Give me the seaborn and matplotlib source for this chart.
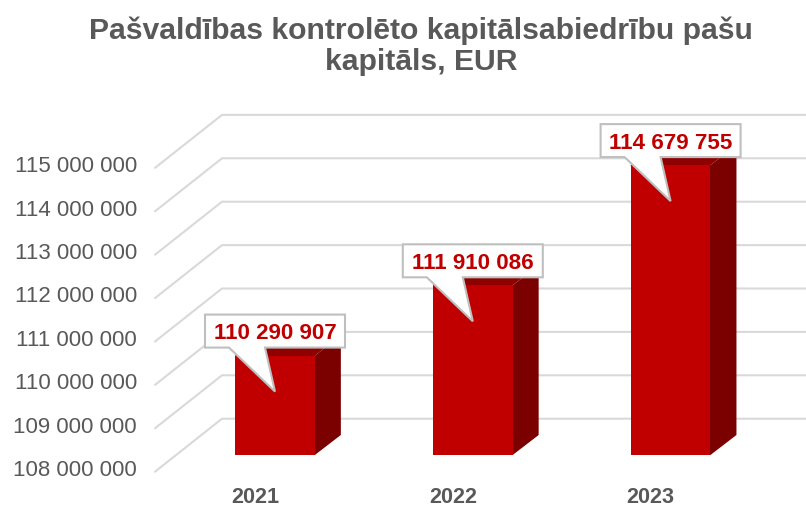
import matplotlib
matplotlib.use('Agg')
import matplotlib.pyplot as plt
import seaborn as sns
from matplotlib.patches import Polygon
from matplotlib.transforms import ScaledTranslation

years = ['2021', '2022', '2023']
values = [110290907, 111910086, 114679755]
tick_values = [108000000, 109000000, 110000000, 111000000, 112000000, 113000000, 114000000, 115000000]
title = 'Pašvaldības kontrolēto kapitālsabiedrību pašu\nkapitāls, EUR'

W, H = 806, 505
px_x = 197.8   # pixels per category
px_y = 43.4    # pixels per million
bottom_px = 455
top_px = 90
x0_px = 275.0  # centre of first bar

red = '#c00000'
side = '#7b0000'
top = '#8f0000'
grid = '#d9d9d9'
grey = '#595959'
font = 'Liberation Sans'

sns.set_theme(style='white')
plt.rcParams['font.family'] = [font, 'DejaVu Sans']

fig = plt.figure(figsize=(W / 100, H / 100), dpi=100)
ax = fig.add_axes([155 / W, (H - bottom_px) / H, (W - 155) / W, (bottom_px - top_px) / H])

sns.barplot(x=years, y=values, color=red, saturation=1, width=0.403, ax=ax, zorder=3, linewidth=0)

base = tick_values[0]
ax.set_xlim((155 - x0_px) / px_x, (W - x0_px) / px_x)
ax.set_ylim(base, base + (bottom_px - top_px) / px_y * 1e6)
sns.despine(ax=ax, left=True, bottom=True)


# pixel distances to data units
def dx(p):
    return p / px_x


def dy(p):
    return p / px_y * 1e6


# wall and floor lines, going from the front left end to the back wall
xl = (155 - x0_px) / px_x
xb = (222 - x0_px) / px_x
xr = (W - x0_px) / px_x
for v in tick_values:
    ax.plot([xl, xb, xr], [v - dy(16.7), v + dy(36.3), v + dy(36.3)], color=grid, lw=1.5,
            clip_on=False, zorder=1, solid_joinstyle='miter')

# sides and tops of the bars, tucked behind the front so no seam shows
depth_x = dx(26)
depth_y = dy(20)
w = 0.403 / 2
for i, v in enumerate(values):
    ax.add_patch(Polygon([(i + w - dx(1), base), (i + w, base), (i + w + depth_x, base + depth_y),
                          (i + w + depth_x, v + depth_y), (i + w, v), (i + w - dx(1), v)],
                         closed=True, fc=side, ec='none', zorder=2.6, clip_on=False))
    ax.add_patch(Polygon([(i - w, v - dy(1)), (i + w, v - dy(1)), (i + w, v), (i + w + depth_x, v + depth_y),
                          (i - w + depth_x, v + depth_y), (i - w, v)],
                         closed=True, fc=top, ec='none', zorder=2.5, clip_on=False))

    # callout with its pointer, tip sits inside the bar
    tip = v - dy(36)
    low = tip + dy(44)
    high = tip + dy(77)
    ax.add_patch(Polygon([(i, tip), (i - dx(10), low), (i + dx(70), low), (i + dx(70), high),
                          (i - dx(70), high), (i - dx(70), low), (i - dx(46), low)],
                         closed=True, fc='white', ec='#bfbfbf', lw=1.5, zorder=5, clip_on=False,
                         joinstyle='miter'))
    ax.text(i, (low + high) / 2, f'{v:,}'.replace(',', ' '), ha='center', va='center_baseline',
            color=red, fontsize=16.1, fontweight='bold', zorder=6, clip_on=False)

ax.set_xticks(range(len(years)))
ax.set_xticklabels(years, fontsize=15.6, fontweight='bold', color=grey)
ax.set_yticks(tick_values)
ax.set_yticklabels([f'{v:,}'.replace(',', ' ') for v in tick_values], fontsize=16, color=grey)
ax.tick_params(axis='y', length=0, pad=13)
ax.tick_params(axis='x', length=0, pad=23)
ax.set_xlabel('')
ax.set_ylabel('')

# labels do not line up with the bars in the original, so shift them
shift_y = ScaledTranslation(0, -13 / 100, fig.dpi_scale_trans)
shift_x = ScaledTranslation(-20 / 100, 0, fig.dpi_scale_trans)
for lab in ax.get_yticklabels():
    lab.set_transform(lab.get_transform() + shift_y)
for lab in ax.get_xticklabels():
    lab.set_transform(lab.get_transform() + shift_x)

fig.text(421 / W, 1 - 46.5 / H, title, ha='center', va='center', fontsize=21.7, fontweight='bold',
         color=grey, linespacing=1.12)

fig.savefig('out.png', dpi=100)
